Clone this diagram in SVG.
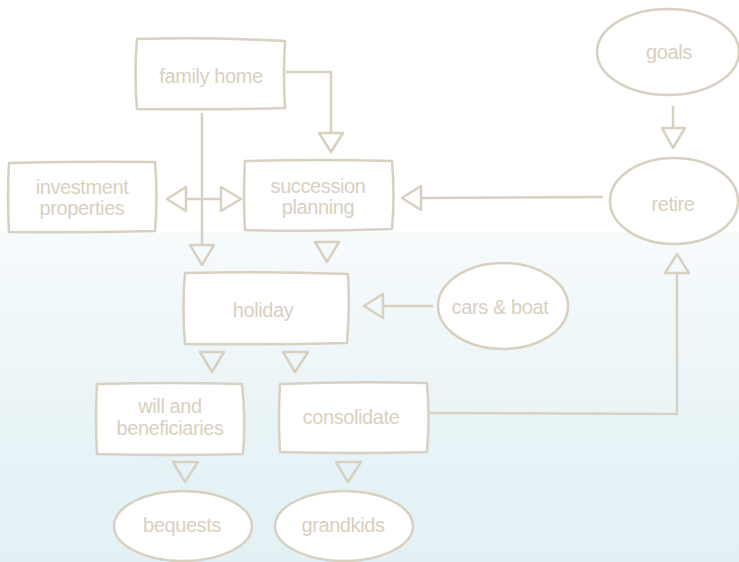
<svg xmlns="http://www.w3.org/2000/svg" width="739" height="562" viewBox="0 0 739 562">
  <defs>
    <linearGradient id="bg" x1="0" y1="0" x2="0" y2="1">
      <stop offset="0" stop-color="#ffffff"/>
      <stop offset="0.41" stop-color="#ffffff"/>
      <stop offset="0.415" stop-color="#f6fbfc"/>
      <stop offset="0.6" stop-color="#eff7f9"/>
      <stop offset="0.8" stop-color="#e7f3f6"/>
      <stop offset="1" stop-color="#e3f1f5"/>
    </linearGradient>
    <style>
      .shape { fill: #ffffff; stroke: #d8d0c0; stroke-width: 2.5; stroke-linejoin: round; }
      .line { fill: none; stroke: #d8d0c0; stroke-width: 2.5; stroke-linejoin: round; }
      .head { fill: none; stroke: #d8d0c0; stroke-width: 2.5; stroke-linejoin: round; }
      .label { fill: #d8d0c0; font-family: "Liberation Sans", "DejaVu Sans", sans-serif; font-size: 20px; text-anchor: middle; dominant-baseline: central; letter-spacing: -0.4px; }
    </style>
  </defs>

  <rect x="0" y="0" width="739" height="562" fill="url(#bg)"/>

  <!-- connectors -->
  <g id="connectors">
    <!-- family home -> succession planning -->
    <path class="line" d="M286 72 L331 72 L331 133"/>
    <path class="head" d="M319 133 L343 133 L331 152 Z"/>
    <!-- family home -> holiday -->
    <path class="line" d="M202 113 L202 245"/>
    <path class="head" d="M190 245 L214 245 L202 265 Z"/>
    <!-- investment properties <-> succession planning -->
    <path class="line" d="M186 199 L221 199"/>
    <path class="head" d="M186 187 L186 211 L167 199 Z"/>
    <path class="head" d="M221 187 L221 211 L241 199 Z"/>
    <!-- goals -> retire -->
    <path class="line" d="M673 106 L673 128"/>
    <path class="head" d="M662 128 L685 128 L673 148 Z"/>
    <!-- retire -> succession planning -->
    <path class="line" d="M603 197 L421 198"/>
    <path class="head" d="M421 186 L421 210 L402 198 Z"/>
    <!-- succession planning -> holiday -->
    <path class="head" d="M315 242 L339 242 L327 262 Z"/>
    <!-- cars & boat -> holiday -->
    <path class="line" d="M433 306 L383 306"/>
    <path class="head" d="M383 294 L383 318 L364 306 Z"/>
    <!-- holiday -> will and beneficiaries -->
    <path class="head" d="M200 352 L224 352 L212 372 Z"/>
    <!-- holiday -> consolidate -->
    <path class="head" d="M283 352 L308 352 L295 372 Z"/>
    <!-- consolidate -> retire -->
    <path class="line" d="M425 413 L677 414 L677 273"/>
    <path class="head" d="M665 273 L689 273 L677 254 Z"/>
    <!-- will and beneficiaries -> bequests -->
    <path class="head" d="M173 462 L198 462 L185 482 Z"/>
    <!-- consolidate -> grandkids -->
    <path class="head" d="M336 462 L361 462 L348 482 Z"/>
  </g>

  <!-- nodes -->
  <g id="family-home">
    <path class="shape" d="M137 39 Q210 37 285 41 Q283 75 285 108 Q210 110 137 109 Q134 74 137 39 Z"/>
    <text class="label" x="211" y="76">family home</text>
  </g>

  <g id="investment-properties">
    <path class="shape" d="M9 163 Q82 161 155 162 Q158 197 155 231 Q82 233 9 232 Q7 197 9 163 Z"/>
    <text class="label" x="82" y="187">investment</text>
    <text class="label" x="82" y="208">properties</text>
  </g>

  <g id="succession-planning">
    <path class="shape" d="M245 161 Q318 159 392 161 Q395 196 392 229 Q318 232 245 230 Q243 196 245 161 Z"/>
    <text class="label" x="318" y="186">succession</text>
    <text class="label" x="318" y="207">planning</text>
  </g>

  <g id="goals">
    <ellipse class="shape" cx="668" cy="52" rx="71" ry="43"/>
    <text class="label" x="669" y="52">goals</text>
  </g>

  <g id="retire">
    <ellipse class="shape" cx="674" cy="201" rx="64" ry="43"/>
    <text class="label" x="673" y="204">retire</text>
  </g>

  <g id="holiday">
    <path class="shape" d="M185 273 Q265 271 348 274 Q350 309 347 343 Q265 345 185 344 Q182 308 185 273 Z"/>
    <text class="label" x="263" y="310">holiday</text>
  </g>

  <g id="cars-boat">
    <ellipse class="shape" cx="503" cy="306" rx="65" ry="43"/>
    <text class="label" x="500" y="307">cars &amp; boat</text>
  </g>

  <g id="will-and-beneficiaries">
    <path class="shape" d="M97 384 Q170 382 242 384 Q246 419 243 454 Q170 456 97 454 Q95 419 97 384 Z"/>
    <text class="label" x="170" y="406">will and</text>
    <text class="label" x="170" y="428">beneficiaries</text>
  </g>

  <g id="consolidate">
    <path class="shape" d="M280 384 Q352 381 427 383 Q430 418 427 452 Q352 454 280 452 Q278 418 280 384 Z"/>
    <text class="label" x="351" y="417">consolidate</text>
  </g>

  <g id="bequests">
    <ellipse class="shape" cx="183" cy="526" rx="69" ry="35"/>
    <text class="label" x="182" y="525">bequests</text>
  </g>

  <g id="grandkids">
    <ellipse class="shape" cx="344" cy="526" rx="69" ry="35"/>
    <text class="label" x="343" y="525">grandkids</text>
  </g>
</svg>
